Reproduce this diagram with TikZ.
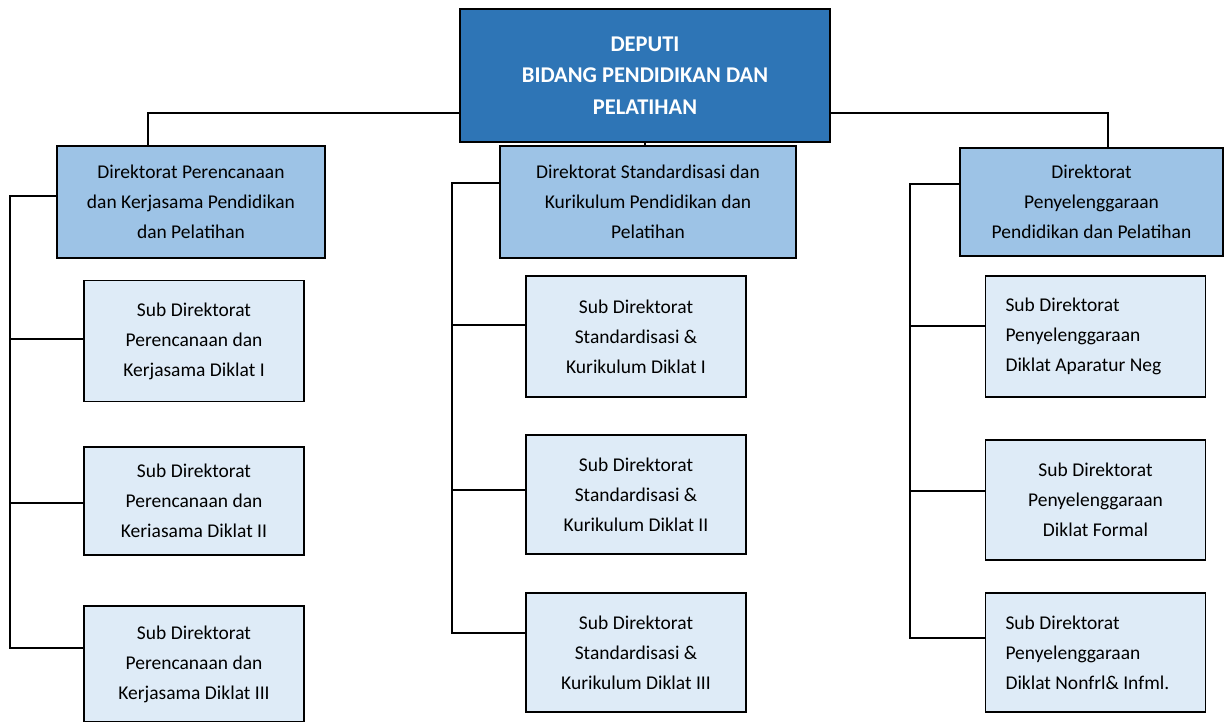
\documentclass[tikz,border=0pt]{standalone}
\usepackage{fontspec}
\setmainfont{Carlito}
\definecolor{deputiblue}{HTML}{2E75B6}
\definecolor{dirblue}{HTML}{9DC3E6}
\definecolor{subblue}{HTML}{DEEBF7}
\tikzset{
  box/.style={draw=black,line width=1.8pt,inner sep=0pt,align=center,
    font=\fontsize{19.5}{30}\selectfont},
  deputi/.style={box,fill=deputiblue,text=white,
    font=\fontsize{22.5}{31.5}\selectfont\bfseries,
    minimum width=370pt,minimum height=133pt},
  direktorat/.style={box,fill=dirblue,minimum height=112pt},
  subdir/.style={box,fill=subblue,minimum width=220pt,minimum height=121pt},
  subleft/.style={subdir,text width=180pt,align=flush left},
  link/.style={line width=1.8pt}
}
\begin{document}
\begin{tikzpicture}[x=1pt,y=-1pt]
  \useasboundingbox (0,0) rectangle (1225,721);
  % kepala
  \node[deputi] (deputi) at (645,75.5) {DEPUTI\\BIDANG PENDIDIKAN DAN\\PELATIHAN};
  % direktorat
  \node[direktorat,minimum width=268pt] (dirL) at (191,202)
    {Direktorat Perencanaan\\dan Kerjasama Pendidikan\\dan Pelatihan};
  \node[direktorat,minimum width=296pt] (dirM) at (648,202)
    {Direktorat Standardisasi dan\\Kurikulum Pendidikan dan\\Pelatihan};
  \node[direktorat,minimum width=263pt,minimum height=108pt] (dirR) at (1091.5,202)
    {Direktorat\\Penyelenggaraan\\Pendidikan dan Pelatihan};
  % sub direktorat kiri
  \node[subdir] (subL1) at (194,341) {Sub Direktorat\\Perencanaan dan\\Kerjasama Diklat I};
  \node[subdir,minimum height=108pt] (subL2) at (194,501) {Sub Direktorat\\Perencanaan dan\\Keriasama Diklat II};
  \node[subdir,minimum height=116pt] (subL3) at (194,664) {Sub Direktorat\\Perencanaan dan\\Kerjasama Diklat III};
  % sub direktorat tengah
  \node[subdir] (subM1) at (636,336.5) {Sub Direktorat\\Standardisasi \&\\Kurikulum Diklat I};
  \node[subdir,minimum height=119pt] (subM2) at (636,494.5) {Sub Direktorat\\Standardisasi \&\\Kurikulum Diklat II};
  \node[subdir,minimum height=119pt] (subM3) at (636,652.5) {Sub Direktorat\\Standardisasi \&\\Kurikulum Diklat III};
  % sub direktorat kanan
  \node[subleft] (subR1) at (1095.5,336.5) {Sub Direktorat\\Penyelenggaraan\\Diklat Aparatur Neg};
  \node[subdir,minimum height=120pt] (subR2) at (1095.5,500) {Sub Direktorat\\Penyelenggaraan\\Diklat Formal};
  \node[subleft,minimum height=119pt] (subR3) at (1095.5,652.5) {Sub Direktorat\\Penyelenggaraan\\Diklat Nonfrl\& Infml.};
  % garis atas
  \coordinate (busL) at (148,113);
  \coordinate (busR) at (1108,113);
  \draw[link] (deputi.west |- busL) -- (busL) -- (busL |- dirL.north);
  \draw[link] (deputi.east |- busR) -- (busR) -- (busR |- dirR.north);
  \draw[link] (deputi.south) -- (deputi.south |- dirM.north);
  % garis kiri
  \coordinate (spL) at (10,648);
  \draw[link] ([yshift=6pt]dirL.west) -| (spL) -- ([yshift=16pt]subL3.west);
  \draw[link] ([yshift=2pt]subL1.west) -| (spL);
  \draw[link] ([yshift=-2pt]subL2.west) -| (spL);
  % garis tengah
  \coordinate (spM) at (452,633);
  \draw[link] ([yshift=19pt]dirM.west) -| (spM) -- ([yshift=19.5pt]subM3.west);
  \draw[link] ([yshift=11.5pt]subM1.west) -| (spM);
  \draw[link] ([yshift=4.5pt]subM2.west) -| (spM);
  % garis kanan
  \coordinate (spR) at (910,638);
  \draw[link] ([yshift=18pt]dirR.west) -| (spR) -- ([yshift=14.5pt]subR3.west);
  \draw[link] ([yshift=10.5pt]subR1.west) -| (spR);
  \draw[link] ([yshift=9pt]subR2.west) -| (spR);
\end{tikzpicture}
\end{document}
